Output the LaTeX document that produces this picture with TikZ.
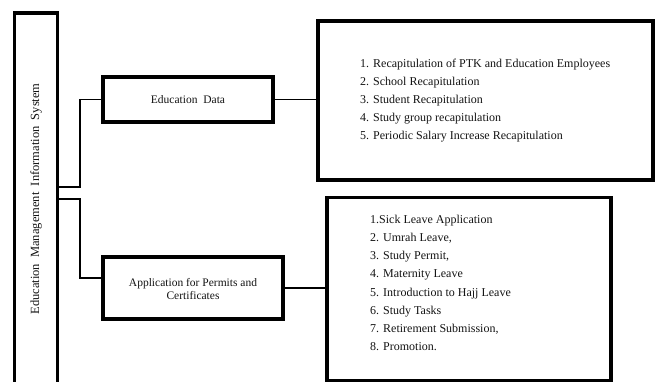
\documentclass[tikz,border=0pt]{standalone}
\usepackage{fontspec}
\setmainfont{Liberation Serif}
\usetikzlibrary{shadows,calc}
\begin{document}
\begin{tikzpicture}[x=1pt,y=-1pt,
  box/.style={draw=black, line width=3.4pt, fill=white, inner sep=0pt,
    drop shadow={opacity=0.25, shadow xshift=1pt, shadow yshift=-1.2pt}},
  conn/.style={line width=1.8pt},
  txt/.style={text=black!92, inner sep=0pt},
  listtxt/.style={txt, align=left, anchor=west, font=\fontsize{12}{18.2}\selectfont}]
\useasboundingbox (0,0) rectangle (659,381);
\fill[white] (0,0) rectangle (659,381);
% main vertical box
\node[box, minimum width=43pt, minimum height=390pt] (ems) at (36,208) {};
\node[txt, rotate=90, font=\fontsize{12.5}{14}\selectfont] (emslabel) at (36,199) {Education\ \ Management\ \ Information\ \ System};
% education data
\node[box, minimum width=170pt, minimum height=45pt] (edu) at (188,99.5) {};
\node[txt, font=\fontsize{11.5}{13}\selectfont] (edulabel) at (edu.center) {Education\ \ Data};
\node[box, minimum width=335pt, minimum height=159pt] (box1) at (485.5,100.5) {};
\node[listtxt] (list1) at (360,100.5) {1. Recapitulation of PTK and Education Employees\\
2. School Recapitulation\\
3. Student Recapitulation\\
4. Study group recapitulation\\
5. Periodic Salary Increase Recapitulation};
% application
\node[box, minimum width=180pt, minimum height=62pt] (app) at (193,288) {};
\node[txt, align=center, font=\fontsize{11.5}{13.5}\selectfont] (applabel) at (193,289) {Application for Permits and\\Certificates};
\node[box, minimum width=284pt, minimum height=183pt] (box2) at (469,289) {};
\node[listtxt] (list2) at (370,283) {1.Sick Leave Application\\
2. Umrah Leave,\\
3. Study Permit,\\
4. Maternity Leave\\
5. Introduction to Hajj Leave\\
6. Study Tasks\\
7. Retirement Submission,\\
8. Promotion.};
% connectors
\coordinate (j1) at (80,187);
\coordinate (j2) at (80,199);
\draw[conn] (ems.east |- j1) -- (j1) |- (edu.west);
\draw[conn] (ems.east |- j2) -- (j2) |- ($(app.west)+(0,-10)$);
\draw[conn] (edu.east) -- (edu.east -| box1.west);
\draw[conn] (app.east) -- (app.east -| box2.west);
\end{tikzpicture}
\end{document}
